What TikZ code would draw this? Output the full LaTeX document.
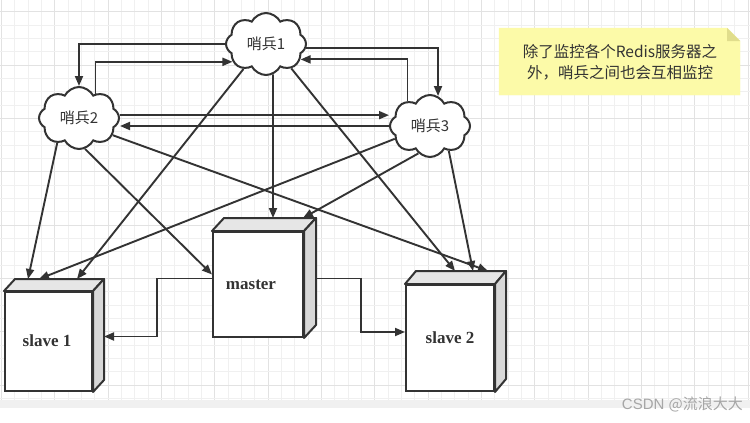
\documentclass[tikz,border=0pt]{standalone}
\usepackage{fontspec}
\setmainfont{Liberation Serif}
\newfontfamily\cjk{Noto Sans CJK SC}
\newfontfamily\wmfont{Liberation Sans}
\usetikzlibrary{shapes.symbols,arrows.meta}
\definecolor{ink}{HTML}{333333}
\definecolor{gridminor}{HTML}{F0F0F0}
\definecolor{gridmajor}{HTML}{E2E2E2}
\definecolor{noteyellow}{RGB}{252,250,168}
\definecolor{notefold}{RGB}{224,221,140}
\definecolor{topgray}{HTML}{E6E6E6}
\definecolor{sidegray}{HTML}{D8D8D8}
\tikzset{
  sentinel/.style={cloud, cloud puffs=8, cloud puff arc=125, aspect=1.3,
    minimum width=80pt, minimum height=62pt, inner sep=0pt,
    draw=ink, line width=2pt, fill=white, text=ink,
    font=\cjk\fontsize{15}{18}\selectfont},
  server/.style={rectangle, draw=ink, line width=2pt, fill=white, inner sep=0pt},
  face/.style={draw=ink, line width=2pt, line join=round},
  label/.style={font=\bfseries\fontsize{17}{20}\selectfont, text=ink},
  arr/.style={draw=ink, line width=1.9pt, -{Triangle[length=10pt,width=8pt]}},
}
\newcommand{\mycube}[3]{%
  \filldraw[face, fill=topgray] (#1.north west) -- ([xshift=#2,yshift=#3]#1.north west)
    -- ([xshift=#2,yshift=#3]#1.north east) -- (#1.north east) -- cycle;
  \filldraw[face, fill=sidegray] (#1.north east) -- ([xshift=#2,yshift=#3]#1.north east)
    -- ([xshift=#2,yshift=#3]#1.south east) -- (#1.south east) -- cycle;
}
\begin{document}
\begin{tikzpicture}[x=1pt,y=-1pt]
\useasboundingbox (0,0) rectangle (750,423);
\fill[white] (0,0) rectangle (750,423);
% grid
\foreach \i in {0,...,56} {
  \pgfmathtruncatemacro{\m}{mod(\i,4)}
  \ifnum\m=0 \draw[gridmajor, line width=0.8pt] ({1.5+13.33*\i},0) -- ({1.5+13.33*\i},400);
  \else \draw[gridminor, line width=0.8pt] ({1.5+13.33*\i},0) -- ({1.5+13.33*\i},400); \fi
}
\foreach \j in {0,...,29} {
  \pgfmathtruncatemacro{\m}{mod(\j,4)}
  \ifnum\m=0 \draw[gridmajor, line width=0.8pt] (0,{11.7+13.33*\j}) -- (750,{11.7+13.33*\j});
  \else \draw[gridminor, line width=0.8pt] (0,{11.7+13.33*\j}) -- (750,{11.7+13.33*\j}); \fi
}
\fill[gray!12] (0,400) rectangle (750,408);

% note
\filldraw[fill=noteyellow, draw=noteyellow] (499,28) -- (727,28) -- (740,41) -- (740,95) -- (499,95) -- cycle;
\fill[notefold] (727,28) -- (740,41) -- (727,41) -- cycle;
\node[font=\cjk\fontsize{15.5}{21}\selectfont, text=ink, align=center] (note) at (620,62)
  {除了监控各个Redis服务器之\\外，哨兵之间也会互相监控};

% sentinels
\node[sentinel] (c1) at (266,44) {哨兵1};
\node[sentinel] (c2) at (79,118) {哨兵2};
\node[sentinel] (c3) at (430,126) {哨兵3};

% servers
\node[server, minimum width=90pt, minimum height=105pt] (m) at (258,284.5) {};
\mycube{m}{12pt}{13pt}
\node[label] (mt) at (251,285) {master};
\node[server, minimum width=87pt, minimum height=99pt] (s1) at (48.5,341.5) {};
\mycube{s1}{11pt}{12pt}
\node[label] (s1t) at (47,341) {slave 1};
\node[server, minimum width=88pt, minimum height=106pt] (s2) at (450,338) {};
\mycube{s2}{11pt}{13pt}
\node[label] (s2t) at (450,338) {slave 2};

% back top edges
\coordinate (s1b) at ([xshift=11pt,yshift=12pt]s1.north);
\coordinate (mb) at ([xshift=12pt,yshift=13pt]m.north);
\coordinate (s2b) at ([xshift=11pt,yshift=13pt]s2.north);

% sentinel ring
\draw[arr] (c1.west) -| (c2.north);
\draw[arr] (c2.56) |- (c1.208);
\draw[arr] (c1.-6) -| (c3.75);
\draw[arr] (c3.132) |- (c1.-24);
\draw[arr] (c2.4) -- (c2.4 -| c3.west);
\draw[arr] (c3.west) -- (c3.west -| c2.east);

% sentinels to servers
\draw[arr] (c1.228) -- ([xshift=17.5pt]s1b);
\draw[arr] (c1.283) -- ([xshift=3pt]mb);
\draw[arr] (c1.316) -- ([xshift=-6pt]s2b);
\draw[arr] (c2.229) -- ([xshift=-31.5pt]s1b);
\draw[arr] (c2.281) -- ([yshift=10pt]m.west);
\draw[arr] (c2.333) -- ([xshift=27pt]s2b);
\draw[arr] (c3.200) -- ([xshift=-20.5pt]s1b);
\draw[arr] (c3.247) -- ([xshift=33pt]mb);
\draw[arr] (c3.307) -- ([xshift=12pt]s2b);

% replication
\draw[arr] ([yshift=6pt]m.west) -- ++(-55,0) |- ([xshift=11pt,yshift=5pt]s1.east);
\draw[arr] ([xshift=12pt,yshift=6pt]m.east) -- ++(45,0) |- ([yshift=6pt]s2.west);

% watermark
\node[font=\wmfont\fontsize{15}{18}\selectfont, text=gray!70, anchor=east, inner sep=0pt] (wm) at (743,404) {CSDN {\cjk @流浪大大}};
\end{tikzpicture}
\end{document}
